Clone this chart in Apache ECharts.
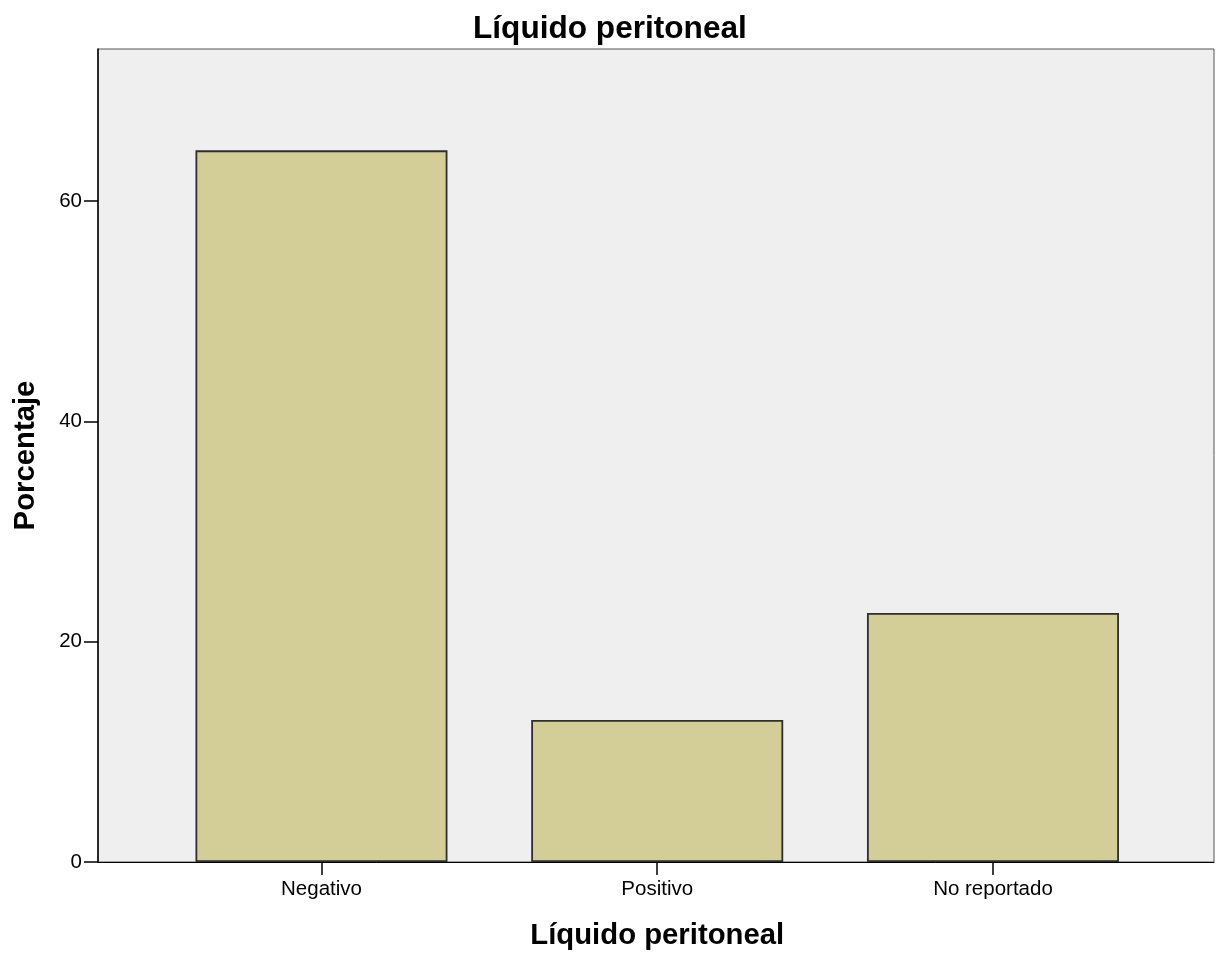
<!DOCTYPE html>
<html>
<head>
<meta charset="utf-8">
<script src="https://cdn.jsdelivr.net/npm/echarts@6/dist/echarts.min.js"></script>
<style>
html,body{margin:0;padding:0;background:#fff;}
#chart{width:1217px;height:955px;}
</style>
</head>
<body>
<div id="chart"></div>
<script>
const categories = ['Negativo', 'Positivo', 'No reportado'];
const percentages = [64.6, 12.9, 22.6];
const yTicks = [0, 20, 40, 60];
const yMax = 73.8;
const chartTitle = 'Líquido peritoneal';
const xName = 'Líquido peritoneal';
const yName = 'Porcentaje';

const FONT = '"Liberation Sans", Arial, sans-serif';
const chart = echarts.init(document.getElementById('chart'), null, {renderer: 'canvas'});

chart.setOption({
  animation: false,
  backgroundColor: '#ffffff',
  title: {
    text: chartTitle,
    left: 468,
    top: 8,
    textStyle: {fontFamily: FONT, fontSize: 31.6, fontWeight: 'bold', color: '#000'}
  },
  grid: [
    {left: 98, top: 49, width: 1116, height: 813, show: true, backgroundColor: '#efefef', borderColor: '#555', borderWidth: 1},
    {left: 153.6, top: 49, width: 1007.25, height: 813, show: false}
  ],
  xAxis: [
    {gridIndex: 0, type: 'value', min: 0, max: 1, axisLine: {show: true, lineStyle: {color: '#000', width: 1}}, axisTick: {show: false}, axisLabel: {show: false}, splitLine: {show: false}},
    {gridIndex: 1, type: 'category', data: categories, boundaryGap: true,
     name: xName, nameLocation: 'middle', nameGap: 59,
     nameTextStyle: {fontFamily: FONT, fontSize: 29.3, fontWeight: 'bold', color: '#000'},
     axisLine: {show: false},
     axisTick: {show: true, alignWithLabel: true, length: 13, lineStyle: {color: '#000', width: 1.5}},
     axisLabel: {margin: 17, fontFamily: FONT, fontSize: 20.5, color: '#000'},
     splitLine: {show: false}}
  ],
  yAxis: [
    {gridIndex: 0, type: 'value', min: 0, max: yMax, interval: 20,
     name: yName, nameLocation: 'middle', nameGap: 58,
     nameTextStyle: {fontFamily: FONT, fontSize: 29.3, fontWeight: 'bold', color: '#000'},
     axisLine: {show: true, lineStyle: {color: '#000', width: 1.5}},
     axisTick: {show: true, length: 14, customValues: yTicks, lineStyle: {color: '#000', width: 1.5}},
     axisLabel: {margin: 16, customValues: yTicks, fontFamily: FONT, fontSize: 20.5, color: '#000'},
     splitLine: {show: false}},
    {gridIndex: 1, type: 'value', min: 0, max: yMax, show: false, splitLine: {show: false}}
  ],
  series: [{
    type: 'bar',
    xAxisIndex: 1,
    yAxisIndex: 1,
    data: percentages,
    barWidth: 252,
    itemStyle: {color: '#d3cd98', borderColor: '#2e2e2e', borderWidth: 1.8}
  }]
});
</script>
</body>
</html>
